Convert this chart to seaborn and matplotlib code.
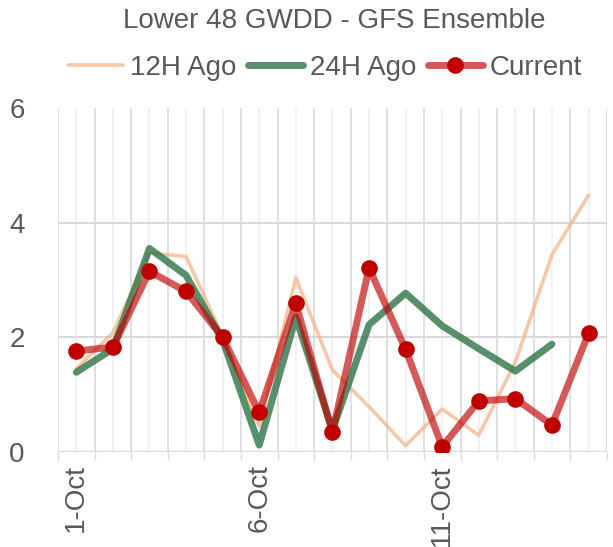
import matplotlib
matplotlib.use("Agg")
import matplotlib.pyplot as plt
import numpy as np
import pandas as pd
import seaborn as sns

days = ["1-Oct", "2-Oct", "3-Oct", "4-Oct", "5-Oct", "6-Oct", "7-Oct", "8-Oct",
        "9-Oct", "10-Oct", "11-Oct", "12-Oct", "13-Oct", "14-Oct", "15-Oct"]
ago_12h = [1.45, 2.08, 3.47, 3.41, 2.02, 0.45, 3.04, 1.43, 0.79, 0.11, 0.75, 0.29, 1.57, 3.44, 4.48]
ago_24h = [1.39, 1.80, 3.55, 3.08, 1.95, 0.12, 2.35, 0.38, 2.22, 2.77, 2.20, 1.80, 1.41, 1.88, np.nan]
current = [1.76, 1.83, 3.15, 2.80, 2.00, 0.69, 2.59, 0.34, 3.21, 1.79, 0.09, 0.89, 0.93, 0.47, 2.07]
label_days = ["1-Oct", "6-Oct", "11-Oct"]

df = pd.DataFrame({"day": days, "x": range(len(days)),
                   "12H Ago": ago_12h, "24H Ago": ago_24h, "Current": current})

sns.set_style("white")
plt.rcParams["font.family"] = ["Liberation Sans", "DejaVu Sans"]
txt = "#595959"

fig = plt.figure(figsize=(6.13, 5.47), dpi=100)
ax = fig.add_axes([0.0946, 0.1737, 0.8954, 0.6289])

sns.lineplot(data=df, x="x", y="12H Ago", ax=ax, color=(0.957, 0.694, 0.514, 0.7),
             linewidth=2.6, label="12H Ago")
sns.lineplot(data=df, x="x", y="24H Ago", ax=ax, color=(0.18, 0.46, 0.28, 0.8),
             linewidth=5, label="24H Ago")
sns.lineplot(data=df, x="x", y="Current", ax=ax, color=(0.753, 0.0, 0.0, 0.65),
             linewidth=5, marker="o", markersize=12, markerfacecolor="#C00000",
             markeredgecolor="#C00000", markeredgewidth=0, label="Current")

n = len(days)
ax.set_xlim(-0.5, n - 0.5)
ax.set_ylim(0, 6)
ax.set_yticks([0, 2, 4, 6])
ax.set_xticks(np.arange(n + 1) - 0.5)
ax.set_xticks(range(n), minor=True)
ax.set_xticklabels([])
ax.tick_params(axis="x", which="major", length=6, width=1, color="#D9D9D9", bottom=True)
ax.tick_params(axis="x", which="minor", length=0)
ax.tick_params(axis="y", length=0, labelsize=20, labelcolor=txt, pad=24)

# category centers get the date labels
for d in label_days:
    i = days.index(d)
    ax.text(i, -0.22, d, rotation=90, ha="center", va="top", fontsize=20, color=txt,
            transform=ax.transData)

for x in np.arange(n + 1) - 0.5:
    ax.axvline(x, color="#D9D9D9", lw=1.2, zorder=0)
for x in range(n):
    ax.axvline(x, color="#EFEFEF", lw=1.2, zorder=0)
for y in [0, 2, 4]:
    ax.axhline(y, color="#D9D9D9", lw=1.5, zorder=0)

for s in ax.spines.values():
    s.set_visible(False)
ax.set_xlabel("")
ax.set_ylabel("")

fig.text(0.545, 0.962, "Lower 48 GWDD - GFS Ensemble", ha="center", va="center",
         fontsize=20, color=txt)
leg = ax.legend(loc="center", bbox_to_anchor=(0.53, 0.876), bbox_transform=fig.transFigure,
                ncol=3, frameon=False, fontsize=20, handlelength=2.0, handletextpad=0.25,
                columnspacing=0.4, borderpad=0)
for t in leg.get_texts():
    t.set_color(txt)

fig.savefig("out.png", dpi=100)
